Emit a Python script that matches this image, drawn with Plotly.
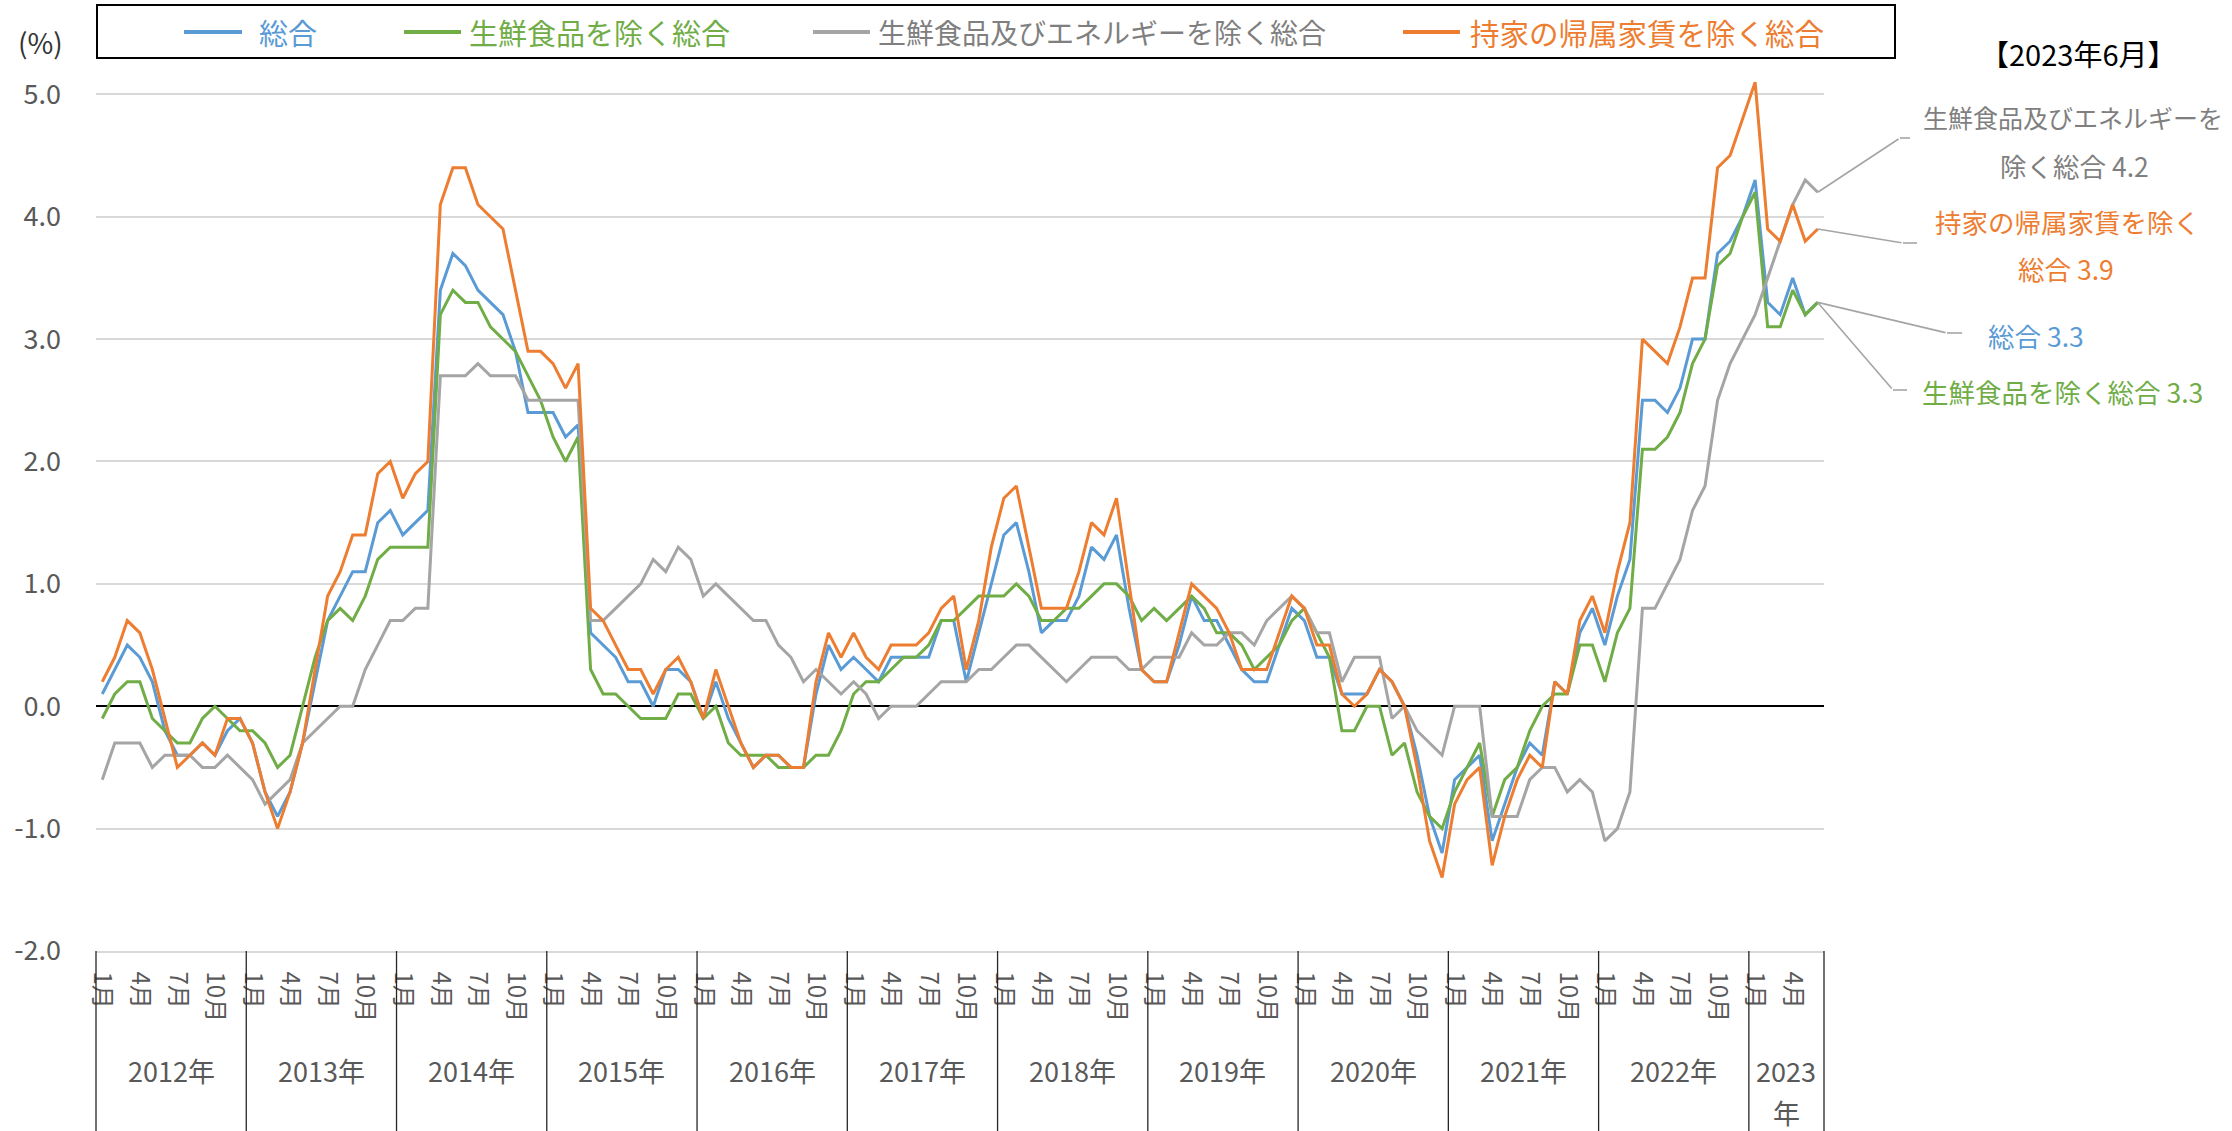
import plotly.graph_objects as go

# ---------------- data ----------------
years = ["2012年", "2013年", "2014年", "2015年", "2016年", "2017年", "2018年",
         "2019年", "2020年", "2021年", "2022年", "2023年"]
months_in_year = [12, 12, 12, 12, 12, 12, 12, 12, 12, 12, 12, 6]
month_tick_months = [1, 4, 7, 10]
month_tick_text = ["1月", "4月", "7月", "10月"]
y_tick_vals = [-2, -1, 0, 1, 2, 3, 4, 5]
y_tick_text = ["-2.0", "-1.0", "0.0", "1.0", "2.0", "3.0", "4.0", "5.0"]

series_names = ["総合", "生鮮食品を除く総合", "生鮮食品及びエネルギーを除く総合", "持家の帰属家賃を除く総合"]
series_colors = ["#5B9BD5", "#70AD47", "#A5A5A5", "#ED7D31"]
label_colors = ["#5B9BD5", "#70AD47", "#7F7F7F", "#ED7D31"]

sogo = [
    0.1, 0.3, 0.5, 0.4, 0.2, -0.2, -0.4, -0.4, -0.3, -0.4, -0.2, -0.1,
    -0.3, -0.7, -0.9, -0.7, -0.3, 0.2, 0.7, 0.9, 1.1, 1.1, 1.5, 1.6,
    1.4, 1.5, 1.6, 3.4, 3.7, 3.6, 3.4, 3.3, 3.2, 2.9, 2.4, 2.4,
    2.4, 2.2, 2.3, 0.6, 0.5, 0.4, 0.2, 0.2, 0.0, 0.3, 0.3, 0.2,
    -0.1, 0.2, -0.1, -0.3, -0.5, -0.4, -0.4, -0.5, -0.5, 0.1, 0.5, 0.3,
    0.4, 0.3, 0.2, 0.4, 0.4, 0.4, 0.4, 0.7, 0.7, 0.2, 0.6, 1.0,
    1.4, 1.5, 1.1, 0.6, 0.7, 0.7, 0.9, 1.3, 1.2, 1.4, 0.8, 0.3,
    0.2, 0.2, 0.5, 0.9, 0.7, 0.7, 0.5, 0.3, 0.2, 0.2, 0.5, 0.8,
    0.7, 0.4, 0.4, 0.1, 0.1, 0.1, 0.3, 0.2, 0.0, -0.4, -0.9, -1.2,
    -0.6, -0.5, -0.4, -1.1, -0.8, -0.5, -0.3, -0.4, 0.2, 0.1, 0.6, 0.8,
    0.5, 0.9, 1.2, 2.5, 2.5, 2.4, 2.6, 3.0, 3.0, 3.7, 3.8, 4.0,
    4.3, 3.3, 3.2, 3.5, 3.2, 3.3,
]
core = [
    -0.1, 0.1, 0.2, 0.2, -0.1, -0.2, -0.3, -0.3, -0.1, 0.0, -0.1, -0.2,
    -0.2, -0.3, -0.5, -0.4, 0.0, 0.4, 0.7, 0.8, 0.7, 0.9, 1.2, 1.3,
    1.3, 1.3, 1.3, 3.2, 3.4, 3.3, 3.3, 3.1, 3.0, 2.9, 2.7, 2.5,
    2.2, 2.0, 2.2, 0.3, 0.1, 0.1, 0.0, -0.1, -0.1, -0.1, 0.1, 0.1,
    -0.1, 0.0, -0.3, -0.4, -0.4, -0.4, -0.5, -0.5, -0.5, -0.4, -0.4, -0.2,
    0.1, 0.2, 0.2, 0.3, 0.4, 0.4, 0.5, 0.7, 0.7, 0.8, 0.9, 0.9,
    0.9, 1.0, 0.9, 0.7, 0.7, 0.8, 0.8, 0.9, 1.0, 1.0, 0.9, 0.7,
    0.8, 0.7, 0.8, 0.9, 0.8, 0.6, 0.6, 0.5, 0.3, 0.4, 0.5, 0.7,
    0.8, 0.6, 0.4, -0.2, -0.2, 0.0, 0.0, -0.4, -0.3, -0.7, -0.9, -1.0,
    -0.7, -0.5, -0.3, -0.9, -0.6, -0.5, -0.2, 0.0, 0.1, 0.1, 0.5, 0.5,
    0.2, 0.6, 0.8, 2.1, 2.1, 2.2, 2.4, 2.8, 3.0, 3.6, 3.7, 4.0,
    4.2, 3.1, 3.1, 3.4, 3.2, 3.3,
]
core_core = [
    -0.6, -0.3, -0.3, -0.3, -0.5, -0.4, -0.4, -0.4, -0.5, -0.5, -0.4, -0.5,
    -0.6, -0.8, -0.7, -0.6, -0.3, -0.2, -0.1, 0.0, 0.0, 0.3, 0.5, 0.7,
    0.7, 0.8, 0.8, 2.7, 2.7, 2.7, 2.8, 2.7, 2.7, 2.7, 2.5, 2.5,
    2.5, 2.5, 2.5, 0.7, 0.7, 0.8, 0.9, 1.0, 1.2, 1.1, 1.3, 1.2,
    0.9, 1.0, 0.9, 0.8, 0.7, 0.7, 0.5, 0.4, 0.2, 0.3, 0.2, 0.1,
    0.2, 0.1, -0.1, 0.0, 0.0, 0.0, 0.1, 0.2, 0.2, 0.2, 0.3, 0.3,
    0.4, 0.5, 0.5, 0.4, 0.3, 0.2, 0.3, 0.4, 0.4, 0.4, 0.3, 0.3,
    0.4, 0.4, 0.4, 0.6, 0.5, 0.5, 0.6, 0.6, 0.5, 0.7, 0.8, 0.9,
    0.8, 0.6, 0.6, 0.2, 0.4, 0.4, 0.4, -0.1, 0.0, -0.2, -0.3, -0.4,
    0.0, 0.0, 0.0, -0.9, -0.9, -0.9, -0.6, -0.5, -0.5, -0.7, -0.6, -0.7,
    -1.1, -1.0, -0.7, 0.8, 0.8, 1.0, 1.2, 1.6, 1.8, 2.5, 2.8, 3.0,
    3.2, 3.5, 3.8, 4.1, 4.3, 4.2,
]
excl_rent = [
    0.2, 0.4, 0.7, 0.6, 0.3, -0.1, -0.5, -0.4, -0.3, -0.4, -0.1, -0.1,
    -0.3, -0.7, -1.0, -0.7, -0.3, 0.3, 0.9, 1.1, 1.4, 1.4, 1.9, 2.0,
    1.7, 1.9, 2.0, 4.1, 4.4, 4.4, 4.1, 4.0, 3.9, 3.4, 2.9, 2.9,
    2.8, 2.6, 2.8, 0.8, 0.7, 0.5, 0.3, 0.3, 0.1, 0.3, 0.4, 0.2,
    -0.1, 0.3, 0.0, -0.3, -0.5, -0.4, -0.4, -0.5, -0.5, 0.2, 0.6, 0.4,
    0.6, 0.4, 0.3, 0.5, 0.5, 0.5, 0.6, 0.8, 0.9, 0.3, 0.7, 1.3,
    1.7, 1.8, 1.3, 0.8, 0.8, 0.8, 1.1, 1.5, 1.4, 1.7, 1.0, 0.3,
    0.2, 0.2, 0.6, 1.0, 0.9, 0.8, 0.6, 0.3, 0.3, 0.3, 0.6, 0.9,
    0.8, 0.5, 0.5, 0.1, 0.0, 0.1, 0.3, 0.2, 0.0, -0.5, -1.1, -1.4,
    -0.8, -0.6, -0.5, -1.3, -0.9, -0.6, -0.4, -0.5, 0.2, 0.1, 0.7, 0.9,
    0.6, 1.1, 1.5, 3.0, 2.9, 2.8, 3.1, 3.5, 3.5, 4.4, 4.5, 4.8,
    5.1, 3.9, 3.8, 4.1, 3.8, 3.9,
]
all_series = [sogo, core, core_core, excl_rent]

# right-hand callout texts (latest month)
latest_title = "【2023年6月】"
callout_lines = [
    ["生鮮食品及びエネルギーを", "除く総合 4.2"],
    ["持家の帰属家賃を除く", "総合 3.9"],
    ["総合 3.3"],
    ["生鮮食品を除く総合 3.3"],
]
callout_series = [2, 3, 0, 1]

# ---------------- layout geometry (pixels) ----------------
W, H = 2232, 1131
L, R, T, B = 96, 1824, 76, 951
FONT = "Noto Sans CJK JP"
TXT = "#595959"


def pxx(x):
    return (x - L) / (R - L)


def pxy(y):
    return (B - y) / (B - T)


n = sum(months_in_year)
x_idx = list(range(n))
month_px = (R - L) / n


def data_x(px_x):
    return (px_x - L) / month_px - 0.5


Y_MIN, Y_MAX = -2.0, 5.15
unit_px = (B - T) / (Y_MAX - Y_MIN)


def data_y(px_y):
    return Y_MIN + (B - px_y) / unit_px


fig = go.Figure()
for name, vals, col in zip(series_names, all_series, series_colors):
    fig.add_trace(go.Scatter(x=x_idx, y=vals, mode="lines", name=name,
                             line=dict(color=col, width=3), showlegend=False))

# month ticks
tickvals, ticktext = [], []
start = 0
for cnt in months_in_year:
    for m, t in zip(month_tick_months, month_tick_text):
        if m <= cnt:
            tickvals.append(start + m - 1)
            ticktext.append(t)
    start += cnt

shapes = []
annotations = []

# year separators below the axis
start = 0
bounds = [0]
for cnt in months_in_year:
    start += cnt
    bounds.append(start)
for b in bounds:
    shapes.append(dict(type="line", xref="paper", yref="paper",
                       x0=b / n, x1=b / n, y0=0, y1=pxy(H + 2),
                       line=dict(color="#262626", width=1.3)))

# year labels
start = 0
for yl, cnt in zip(years, months_in_year):
    cx = start + (cnt - 1) / 2
    if cnt == 12:
        annotations.append(dict(x=cx, y=pxy(1070), xref="x", yref="paper",
                                text=yl, showarrow=False, xanchor="center", yanchor="middle",
                                font=dict(family=FONT, size=27, color=TXT)))
    else:
        annotations.append(dict(x=cx, y=pxy(1070), xref="x", yref="paper",
                                text=yl[:-1], showarrow=False, xanchor="center", yanchor="middle",
                                font=dict(family=FONT, size=27, color=TXT)))
        annotations.append(dict(x=cx, y=pxy(1112), xref="x", yref="paper",
                                text=yl[-1], showarrow=False, xanchor="center", yanchor="middle",
                                font=dict(family=FONT, size=27, color=TXT)))
    start += cnt

# (%) label
annotations.append(dict(x=pxx(40), y=pxy(42), xref="paper", yref="paper", text="(%)",
                        showarrow=False, xanchor="center", yanchor="middle",
                        font=dict(family=FONT, size=28, color="#333333")))

# custom legend box
shapes.append(dict(type="rect", xref="paper", yref="paper",
                   x0=pxx(97), x1=pxx(1895), y0=pxy(58), y1=pxy(5),
                   line=dict(color="black", width=2), fillcolor="rgba(0,0,0,0)"))
leg_line_x = [(184, 242), (404, 461), (813, 870), (1403, 1460)]
leg_text_x = [257, 467, 876, 1468]
leg_size = [29, 29, 28, 29.5]
for i in range(4):
    shapes.append(dict(type="line", xref="paper", yref="paper",
                       x0=pxx(leg_line_x[i][0]), x1=pxx(leg_line_x[i][1]),
                       y0=pxy(32), y1=pxy(32),
                       line=dict(color=series_colors[i], width=4)))
    annotations.append(dict(x=pxx(leg_text_x[i]), y=pxy(32), xref="paper", yref="paper",
                            text=series_names[i], showarrow=False,
                            xanchor="left", yanchor="middle",
                            font=dict(family=FONT, size=leg_size[i], color=label_colors[i])))

# latest title
annotations.append(dict(x=pxx(2078), y=pxy(53), xref="paper", yref="paper",
                        text=latest_title, showarrow=False, xanchor="center", yanchor="middle",
                        font=dict(family=FONT, size=29, color="#000000")))

# callout texts
callout_pos = [
    [(2073, 117), (2074, 165)],
    [(2067, 222), (2066, 268)],
    [(2036, 335)],
    [(2062, 392)],
]
callout_sizes = [[25, 26.5], [26.5, 26.5], [26.5], [26.5]]
for lines, pos, sizes, si in zip(callout_lines, callout_pos, callout_sizes, callout_series):
    for t, (cx, cy), fs in zip(lines, pos, sizes):
        annotations.append(dict(x=pxx(cx), y=pxy(cy), xref="paper", yref="paper",
                                text=t, showarrow=False, xanchor="center", yanchor="middle",
                                font=dict(family=FONT, size=fs, color=label_colors[si])))

# leader lines: from last data point to elbow, then short horizontal
elbows = [((1900, 138), 1910), ((1903, 243), 1917), ((1947, 333), 1962), ((1893, 390), 1907)]
last = n - 1
for si, ((ex, ey), endx) in zip(callout_series, elbows):
    annotations.append(dict(x=last, y=all_series[si][last], xref="x", yref="y",
                            ax=data_x(ex), ay=data_y(ey), axref="x", ayref="y",
                            text="", showarrow=True, arrowhead=0, arrowwidth=1.6,
                            arrowcolor="#A5A5A5", standoff=0, startstandoff=0))
    shapes.append(dict(type="line", xref="paper", yref="paper",
                       x0=pxx(ex), x1=pxx(endx), y0=pxy(ey), y1=pxy(ey),
                       line=dict(color="#A5A5A5", width=1.6)))

fig.update_layout(
    width=W, height=H,
    margin=dict(l=L, r=W - R, t=T, b=H - B, pad=0),
    paper_bgcolor="white", plot_bgcolor="white",
    font=dict(family=FONT, color=TXT),
    shapes=shapes, annotations=annotations,
    xaxis=dict(range=[-0.5, n - 0.5], tickvals=tickvals, ticktext=ticktext,
               tickangle=90, showgrid=False, zeroline=False, ticks="",
               showline=True, linecolor="#D9D9D9", linewidth=1.5,
               tickfont=dict(family=FONT, size=24, color=TXT), ticklabelstandoff=14),
    yaxis=dict(range=[Y_MIN, Y_MAX], tickvals=y_tick_vals, ticktext=y_tick_text,
               showgrid=True, gridcolor="#D9D9D9", gridwidth=1.5,
               zeroline=True, zerolinecolor="#000000", zerolinewidth=2,
               showline=False, ticks="",
               tickfont=dict(family=FONT, size=27, color=TXT), ticklabelstandoff=34),
    showlegend=False,
)

fig.write_html(
    "out.html",
    config={"displayModeBar": False},
    post_script="document.body.style.margin='0';document.body.style.overflow='hidden';",
)
